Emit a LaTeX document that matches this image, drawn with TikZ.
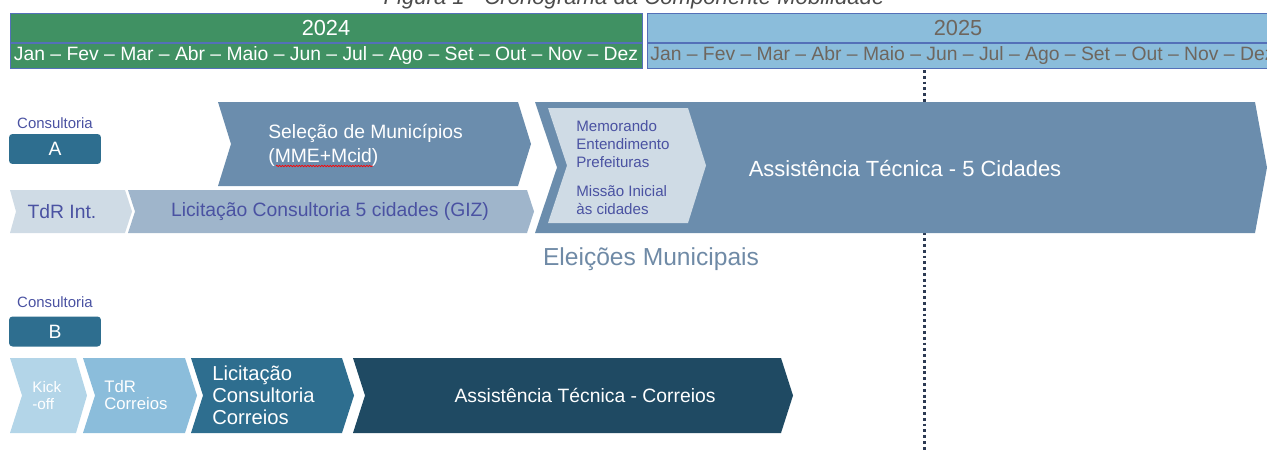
\documentclass[tikz,border=0pt]{standalone}
\usepackage{fontspec}
\setmainfont{Liberation Sans}
\usetikzlibrary{decorations.pathmorphing}

\definecolor{verde}{RGB}{64,145,99}
\definecolor{azulclaro}{RGB}{139,189,219}
\definecolor{borda}{RGB}{84,112,184}
\definecolor{cinzaano}{RGB}{110,102,94}
\definecolor{azulmedio}{RGB}{107,141,173}
\definecolor{azulgiz}{RGB}{159,181,203}
\definecolor{azulpalido}{RGB}{207,219,229}
\definecolor{indigo}{RGB}{74,82,162}
\definecolor{petroleo}{RGB}{46,110,143}
\definecolor{kickoff}{RGB}{179,213,232}
\definecolor{marinho}{RGB}{31,74,99}
\definecolor{eleicao}{RGB}{111,138,166}
\definecolor{pontos}{RGB}{44,58,83}

% chevron: left, notch, right, tip, top, bottom, colour
\newcommand{\chevron}[7]{%
  \fill[#7] (#1,#5) -- (#3,#5) -- ({#3+#4},{(#5+#6)/2}) -- (#3,#6)
    -- (#1,#6) -- ({#1+#2},{(#5+#6)/2}) -- cycle;}

\tikzset{
  anobar/.style={draw=borda, line width=0.5pt},
  txt/.style={inner sep=0pt, align=left},
  mes/.style={txt, font=\fontsize{11}{13}\selectfont},
  ano/.style={txt, font=\fontsize{12.4}{14}\selectfont},
  consult/.style={txt, text=indigo, font=\fontsize{8.5}{10}\selectfont},
  caixa/.style={fill=petroleo, rounded corners=2pt, text=white,
    minimum width=1.84cm, minimum height=0.6cm, inner sep=0pt,
    font=\fontsize{11}{13}\selectfont},
}

\begin{document}
\begin{tikzpicture}[x=0.02cm, y=-0.02cm]
  \useasboundingbox (0,0) rectangle (1267,463);

  % caption, cut at the top
  \node[txt, anchor=base, text=black!70, font=\itshape\fontsize{12.6}{15}\selectfont]
    (legenda) at (634,5) {Figura 1 - Cronograma da Componente Mobilidade};

  % year bars
  \filldraw[anobar, fill=verde] (10,13) rectangle (642,42);
  \filldraw[anobar, fill=verde] (10,43) rectangle (642,68);
  \filldraw[anobar, fill=azulclaro] (647,13) rectangle (1280,42);
  \filldraw[anobar, fill=azulclaro] (647,43) rectangle (1280,68);
  \node[ano, text=white] (ano24) at (326,28) {2024};
  \node[ano, text=cinzaano] (ano25) at (958,28) {2025};
  \node[mes, text=white] (meses24) at (326,56)
    {Jan – Fev – Mar – Abr – Maio – Jun – Jul – Ago – Set – Out – Nov – Dez};
  \node[mes, text=cinzaano, anchor=west] (meses25) at (650,56)
    {Jan – Fev – Mar – Abr – Maio – Jun – Jul – Ago – Set – Out – Nov – Dez};

  % dotted marker
  \coordinate (marcaTopo) at (924,70);
  \coordinate (marcaBase) at (924,450);
  \draw[pontos, line width=1.7pt, dash pattern=on 1.6pt off 1.7pt] (marcaTopo) -- (marcaBase);

  % component A
  \node[consult] (consA) at (55,123) {Consultoria};
  \node[caixa] (caixaA) at (55,149) {A};
  \chevron{218}{13}{518}{13}{102}{186}{azulmedio}
  \chevron{10}{6}{125}{7}{190}{233}{azulpalido}
  \chevron{128}{7}{527}{7}{190}{233}{azulgiz}
  \chevron{535}{22}{1255}{12}{102}{233}{azulmedio}
  \chevron{548}{19}{688}{18}{108}{223}{azulpalido}
  \node[txt, anchor=west, text=white, font=\fontsize{11}{13.6}\selectfont]
    (selecao) at (268,145) {Seleção de Municípios\\(MME+Mcid)};
  \draw[red, line width=0.4pt, decorate,
    decoration={snake, amplitude=0.4pt, segment length=1.6pt}] (276,166) -- (373,166);
  \node[txt, text=indigo, font=\fontsize{11}{13}\selectfont] (tdrInt) at (62,212) {TdR Int.};
  \node[txt, text=indigo, font=\fontsize{11}{13}\selectfont] (licGiz) at (330,212)
    {Licitação Consultoria 5 cidades (GIZ)};
  \node[txt, anchor=west, text=indigo, font=\fontsize{8.6}{10.2}\selectfont]
    (memo) at (576,144) {Memorando\\Entendimento\\Prefeituras};
  \node[txt, anchor=west, text=indigo, font=\fontsize{8.6}{10.2}\selectfont]
    (missao) at (576,200.5) {Missão Inicial\\às cidades};
  \node[txt, text=white, font=\fontsize{12.5}{15}\selectfont] (at5) at (905,169)
    {Assistência Técnica - 5 Cidades};
  \node[txt, text=eleicao, font=\fontsize{14}{17}\selectfont] (eleicoes) at (651,259)
    {Eleições Municipais};

  % component B
  \node[consult] (consB) at (55,302) {Consultoria};
  \node[caixa] (caixaB) at (55,331.5) {B};
  \chevron{10}{12}{76}{11}{358}{433}{kickoff}
  \chevron{83}{12}{185}{12}{358}{433}{azulclaro}
  \chevron{191}{12}{342}{12}{358}{433}{petroleo}
  \chevron{353}{12}{781}{12}{358}{433}{marinho}
  \node[txt, anchor=west, text=white, font=\fontsize{8.7}{9.6}\selectfont]
    (kick) at (32,395.5) {Kick\\-off};
  \node[txt, anchor=west, text=white, font=\fontsize{9.5}{10.2}\selectfont]
    (tdrCorreios) at (104,395) {TdR\\Correios};
  \node[txt, anchor=west, text=white, font=\fontsize{11.5}{12.5}\selectfont]
    (licCorreios) at (212,395) {Licitação\\Consultoria\\Correios};
  \node[txt, text=white, font=\fontsize{11}{13}\selectfont] (atCorreios) at (585,395)
    {Assistência Técnica - Correios};
\end{tikzpicture}
\end{document}
